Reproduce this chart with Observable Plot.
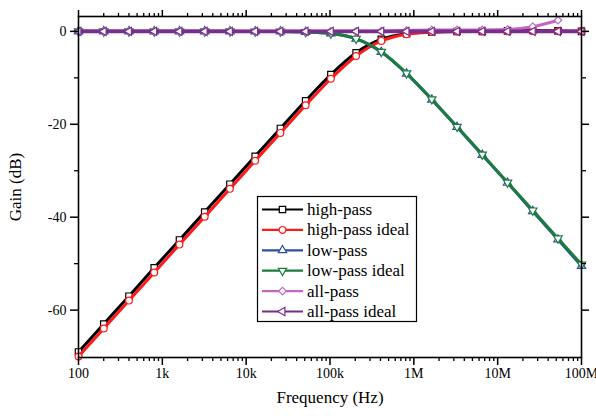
<!DOCTYPE html>
<html>
<head>
<meta charset="utf-8">
<script src="https://cdn.jsdelivr.net/npm/d3@7"></script>
<script src="https://cdn.jsdelivr.net/npm/@observablehq/plot@0.6"></script>
<style>
  html, body { margin: 0; padding: 0; background: #fff; }
  #chart { width: 596px; height: 416px; }
  #chart svg text { font-family: "Liberation Serif", "Times New Roman", serif; }
</style>
</head>
<body>
<div id="chart"></div>
<script>
// ---- data ----
const freq = [100, 200, 400, 800, 1600, 3200, 6400, 12800, 25600, 51200, 102400, 204800,
  409600, 819200, 1638400, 3276800, 6553600, 13107200, 26214400, 52428800, 100000000];
const highPass = [-69.0, -63.0, -57.0, -50.9, -44.9, -38.9, -32.9, -26.9, -20.9, -14.95, -9.3,
  -4.6, -1.7, -0.5, -0.13, -0.03, 0.0, 0.1, 0.2, 0.1, 0.0];
const highPassIdeal = [-70.0, -63.95, -57.95, -51.9, -45.9, -39.9, -33.9, -27.85, -21.85, -15.9,
  -10.2, -5.3, -2.05, -0.6, -0.16, -0.04, -0.01, 0, 0, 0, 0];
const lowPass = [0, 0, 0, 0, 0, 0, 0, -0.01, -0.03, -0.12, -0.45, -1.6, -4.45, -9.1, -14.7,
  -20.6, -26.6, -32.6, -38.7, -44.8, -50.5];
const lowPassIdeal = [0, 0, 0, 0, 0, 0, 0, -0.01, -0.03, -0.12, -0.45, -1.57, -4.39, -9.02,
  -14.61, -20.52, -26.51, -32.52, -38.54, -44.56, -50.17];
const allPass = [0, 0, 0, 0, 0, 0, 0, 0, 0, 0, 0, 0, 0.05, 0.2, 0.3, 0.3, 0.3, 0.4, 1.0, 2.4];
const allPassIdeal = [0, 0, 0, 0, 0, 0, 0, 0, 0, 0, 0, 0, 0, 0, 0, 0, 0, 0, 0, 0, 0];

const seriesNames = ["high-pass", "high-pass ideal", "low-pass", "low-pass ideal", "all-pass", "all-pass ideal"];
const seriesValues = [highPass, highPassIdeal, lowPass, lowPassIdeal, allPass, allPassIdeal];
const seriesColors = ["#000000", "#ff1a1a", "#2f4ea3", "#1b7d3c", "#c465c4", "#7a2d8c"];

const xTickValues = [100, 1e3, 1e4, 1e5, 1e6, 1e7, 1e8];
const xTickLabels = ["100", "1k", "10k", "100k", "1M", "10M", "100M"];
const yTickValues = [-60, -40, -20, 0];
const yMinorTicks = [-50, -30, -10];

// ---- custom marker symbols ----
const s3 = Math.sqrt(3);
const triDown = {draw(ctx, size) {
  const y = Math.sqrt(size / (s3 * 3));
  ctx.moveTo(0, 2 * y); ctx.lineTo(-s3 * y, -y); ctx.lineTo(s3 * y, -y); ctx.closePath();
}};
const triLeft = {draw(ctx, size) {
  const y = Math.sqrt(size / (s3 * 3));
  ctx.moveTo(-2 * y, 0); ctx.lineTo(y, -s3 * y); ctx.lineTo(y, s3 * y); ctx.closePath();
}};
const seriesSymbols = [d3.symbolSquare, d3.symbolCircle, d3.symbolTriangle, triDown, d3.symbolDiamond2, triLeft];
const seriesR = [3.6, 3.4, 3.1, 3.1, 3.4, 3.1];
const seriesWidth = [3, 3, 3, 3, 3, 3.8];

const xMinor = [];
for (let d = 100; d < 1e8; d *= 10) for (let k = 2; k <= 9; k++) xMinor.push(d * k);

const series = seriesNames.map((name, i) => ({
  name, color: seriesColors[i], symbol: seriesSymbols[i], r: seriesR[i], width: seriesWidth[i],
  rows: seriesValues[i].map((g, j) => ({f: freq[j], g}))
}));

const font = "Liberation Serif, Times New Roman, serif";
const blank = () => "";

const marks = [];
for (const s of series) {
  marks.push(Plot.line(s.rows, {x: "f", y: "g", stroke: s.color, strokeWidth: s.width, curve: "monotone-x"}));
  marks.push(Plot.dot(s.rows, {x: "f", y: "g", symbol: s.symbol, r: s.r, fill: "white", stroke: s.color, strokeWidth: 1.2}));
}
marks.push(
  Plot.frame({stroke: "black", strokeWidth: 1.6}),
  Plot.axisX({anchor: "bottom", ticks: xTickValues, tickSize: 8, tickPadding: 3, strokeWidth: 1.5,
    tickFormat: d => xTickLabels[xTickValues.indexOf(d)], fontSize: 14, fontFamily: font, label: null}),
  Plot.axisX({anchor: "bottom", ticks: xMinor, tickSize: 4, strokeWidth: 1.3, tickFormat: blank, label: null}),
  Plot.axisX({anchor: "top", ticks: xTickValues, tickSize: 7, strokeWidth: 1.5, tickFormat: blank, label: null}),
  Plot.axisX({anchor: "top", ticks: xMinor, tickSize: 4, strokeWidth: 1.3, tickFormat: blank, label: null}),
  Plot.axisY({anchor: "left", ticks: yTickValues, tickSize: 8, tickPadding: 4, strokeWidth: 1.5,
    tickFormat: d => String(d), fontSize: 14, fontFamily: font, label: null}),
  Plot.axisY({anchor: "left", ticks: yMinorTicks, tickSize: 4, strokeWidth: 1.3, tickFormat: blank, label: null}),
  Plot.axisY({anchor: "right", ticks: yTickValues, tickSize: 7, strokeWidth: 1.5, tickFormat: blank, label: null}),
  Plot.axisY({anchor: "right", ticks: yMinorTicks, tickSize: 4, strokeWidth: 1.3, tickFormat: blank, label: null}),
  Plot.text(["Frequency (Hz)"], {frameAnchor: "bottom", dy: 45, text: d => d, fontSize: 17, fontFamily: font, fill: "black"}),
  Plot.text(["Gain (dB)"], {frameAnchor: "left", dx: -63, rotate: -90, textAnchor: "middle", text: d => d, fontSize: 17, fontFamily: font, fill: "black"})
);

const svg = Plot.plot({
  width: 596, height: 416,
  marginLeft: 78, marginRight: 15, marginTop: 16, marginBottom: 59,
  style: "font-family: 'Liberation Serif', 'Times New Roman', serif; background: white; color: black; overflow: visible;",
  x: {type: "log", domain: [100, 1e8]},
  y: {domain: [-70.2, 3.2]},
  marks
});

// ---- legend ----
const lg = d3.select(svg).append("g").attr("font-family", font).attr("text-anchor", "start");
lg.append("rect").attr("x", 257.5).attr("y", 196.5).attr("width", 159).attr("height", 125)
  .attr("fill", "white").attr("stroke", "black").attr("stroke-width", 1.2);
series.forEach((s, i) => {
  const y = 209.5 + i * 20.4;
  lg.append("line").attr("x1", 262).attr("x2", 303).attr("y1", y).attr("y2", y)
    .attr("stroke", s.color).attr("stroke-width", 2.2);
  lg.append("path").attr("d", d3.symbol(s.symbol, Math.PI * s.r * s.r)())
    .attr("transform", `translate(282.5,${y})`).attr("fill", "white").attr("stroke", s.color).attr("stroke-width", 1.2);
  lg.append("text").attr("x", 307).attr("y", y).attr("dy", "0.32em").attr("font-size", 17)
    .attr("text-anchor", "start").attr("fill", "black").text(s.name);
});

document.getElementById("chart").appendChild(svg);
</script>
</body>
</html>
